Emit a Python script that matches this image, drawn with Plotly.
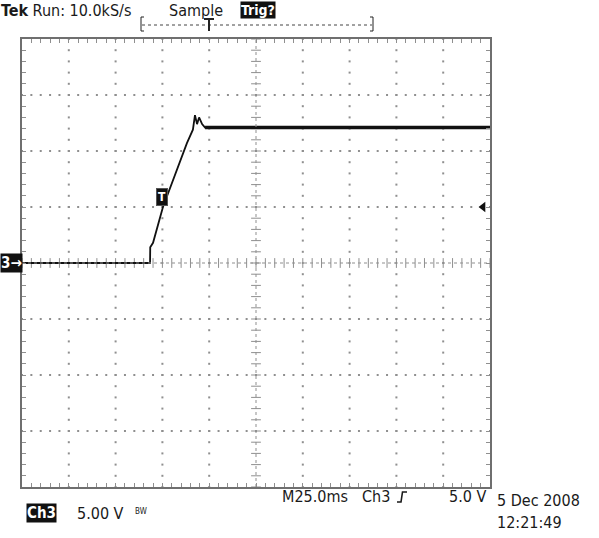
import plotly.graph_objects as go

# ---- data (time in ms relative to screen centre, amplitude in V) ----
time_ms = [-125, -56.6, -56.5, -55.0, -49.7, -42.2, -36.9, -33.7, -32.6, -31.5, -30.4, -28.8, -27.2, 125]
volts = [0.0, 0.0, 1.4, 1.8, 5.0, 8.3, 10.7, 11.9, 13.2, 12.4, 13.0, 12.4, 12.1, 12.1]

brand = "Tek"
run_text = "Run: 10.0kS/s"
acq_mode = "Sample"
trig_state = "Trig?"
timebase = "M25.0ms"
trig_src = "Ch3"
trig_level = "5.0 V"
ch_label = "Ch3"
ch_scale = "5.00 V"
bw_flag = "BW"
date_str = "5 Dec 2008"
time_str = "12:21:49"

# ---- screen geometry ----
T_DIV, V_DIV = 25.0, 5.0
NX, NY = 10, 8
X0, X1 = -NX / 2 * T_DIV, NX / 2 * T_DIV
Y0, Y1 = -NY / 2 * V_DIV, NY / 2 * V_DIV

W, H = 599, 538
L, R, T, B = 22, 490, 39, 487


def px(x):
    return (x - L) / (R - L)


def py(y):
    return (B - y) / (B - T)


FONT = "Liberation Sans Narrow, DejaVu Sans Condensed, Roboto Condensed, Liberation Sans, sans-serif"
GRID = "#8f8f8f"
TXT = "#1a1a1a"

fig = go.Figure()

# grid dots
gx, gy = [], []
for k in range(1, NX):
    xv = X0 + k * T_DIV
    if abs(xv) < 1e-9:
        continue
    for m in range(NY * 5 + 1):
        gx.append(xv)
        gy.append(Y0 + m * V_DIV / 5)
for k in range(1, NY):
    yv = Y0 + k * V_DIV
    if abs(yv) < 1e-9:
        continue
    for m in range(NX * 5 + 1):
        gx.append(X0 + m * T_DIV / 5)
        gy.append(yv)
fig.add_trace(go.Scatter(x=gx, y=gy, mode="markers", hoverinfo="skip",
                         marker=dict(symbol="square", size=2, color=GRID, line=dict(width=0))))

# centre cross ticks
cx = [X0 + m * T_DIV / 5 for m in range(NX * 5 + 1)]
fig.add_trace(go.Scatter(x=cx, y=[0] * len(cx), mode="markers", hoverinfo="skip",
                         marker=dict(symbol="line-ns", size=7, color=GRID, line=dict(width=1, color=GRID))))
cy = [Y0 + m * V_DIV / 5 for m in range(NY * 5 + 1)]
fig.add_trace(go.Scatter(x=[0] * len(cy), y=cy, mode="markers", hoverinfo="skip",
                         marker=dict(symbol="line-ew", size=7, color=GRID, line=dict(width=1, color=GRID))))
fig.add_shape(type="line", x0=X0, x1=X1, y0=0, y1=0, line=dict(color=GRID, width=1, dash="dot"))
fig.add_shape(type="line", x0=0, x1=0, y0=Y0, y1=Y1, line=dict(color=GRID, width=1, dash="dot"))

# waveform
fig.add_trace(go.Scatter(x=time_ms, y=volts, mode="lines", hoverinfo="skip",
                         line=dict(color="#111111", width=1.8)))
fig.add_trace(go.Scatter(x=time_ms[-2:], y=volts[-2:], mode="lines", hoverinfo="skip",
                         line=dict(color="#111111", width=3.5)))

# trigger level arrow on right edge
fig.add_trace(go.Scatter(x=[121.3], y=[5.0], mode="markers", hoverinfo="skip",
                         marker=dict(symbol="triangle-left", size=9, color="#111111")))

fig.update_xaxes(range=[X0, X1], showgrid=False, zeroline=False, showticklabels=False,
                 showline=True, linecolor="#6f6f6f", linewidth=2, mirror="ticks",
                 ticks="inside", tick0=0, dtick=T_DIV / 5, ticklen=4, tickcolor=GRID, tickwidth=1)
fig.update_yaxes(range=[Y0, Y1], showgrid=False, zeroline=False, showticklabels=False,
                 showline=True, linecolor="#6f6f6f", linewidth=2, mirror="ticks",
                 ticks="inside", tick0=0, dtick=V_DIV / 5, ticklen=4, tickcolor=GRID, tickwidth=1)

ann = []


def text(s, x, y, size, xanchor="left", color=TXT, bg=None, bold=False, family=FONT, xref="paper", yref="paper"):
    ann.append(dict(text=("<b>%s</b>" % s) if bold else s, x=x, y=y, xref=xref, yref=yref,
                    xanchor=xanchor, yanchor="middle", showarrow=False,
                    font=dict(family=family, size=size, color=color),
                    bgcolor=bg, borderpad=0))


# header
text("<b>%s</b> %s" % (brand, run_text), px(0), py(10), 16)
text(acq_mode, px(168), py(10), 16)
text(trig_state, px(240), py(10), 14, color="white", bg="#111111", bold=True)

# record bar
bar = dict(color="#222222", width=1)
fig.add_shape(type="line", xref="paper", yref="paper", x0=px(141), x1=px(141), y0=py(17), y1=py(31), line=bar)
fig.add_shape(type="line", xref="paper", yref="paper", x0=px(141), x1=px(144), y0=py(17), y1=py(17), line=bar)
fig.add_shape(type="line", xref="paper", yref="paper", x0=px(141), x1=px(144), y0=py(31), y1=py(31), line=bar)
fig.add_shape(type="line", xref="paper", yref="paper", x0=px(373), x1=px(373), y0=py(17), y1=py(31), line=bar)
fig.add_shape(type="line", xref="paper", yref="paper", x0=px(370), x1=px(373), y0=py(17), y1=py(17), line=bar)
fig.add_shape(type="line", xref="paper", yref="paper", x0=px(370), x1=px(373), y0=py(31), y1=py(31), line=bar)
fig.add_shape(type="line", xref="paper", yref="paper", x0=px(142), x1=px(372), y0=py(25), y1=py(25),
              line=dict(color="#444444", width=1, dash="dot"))
fig.add_shape(type="line", xref="paper", yref="paper", x0=px(204), x1=px(214), y0=py(19), y1=py(19), line=dict(color="#222222", width=2))
fig.add_shape(type="line", xref="paper", yref="paper", x0=px(209), x1=px(209), y0=py(19), y1=py(31), line=dict(color="#222222", width=2))

# ground marker and trigger marker
text("3\u2192", px(0), py(263), 15, color="white", bg="#111111", bold=True)
ann.append(dict(text="<b>T</b>", x=-50.0, y=5.9, xref="x", yref="y", showarrow=False,
                xanchor="center", yanchor="middle", bgcolor="#111111", borderpad=1,
                bordercolor="#555555", borderwidth=1,
                font=dict(family=FONT, size=12, color="white")))

# footer
text(timebase, px(281), py(496), 16)
text(trig_src, px(361), py(496), 16)
fig.add_shape(type="path", xref="paper", yref="paper",
              path="M %f,%f L %f,%f L %f,%f L %f,%f" % (px(397), py(502), px(401), py(502), px(402.5), py(492), px(407), py(492)),
              line=dict(color=TXT, width=1.6))
text(trig_level, px(448), py(496), 16)
text(date_str, px(496), py(500), 16)
text(time_str, px(496), py(522), 16)
text(ch_label, px(26), py(513), 15, color="white", bg="#111111", bold=True)
text(ch_scale, px(76), py(513), 16)
text(bw_flag, px(134), py(511), 8)

fig.update_layout(width=W, height=H, margin=dict(l=L, r=W - R, t=T, b=H - B),
                  paper_bgcolor="white", plot_bgcolor="white", showlegend=False,
                  annotations=ann)

fig.write_html("out.html", config={"displayModeBar": False},
               post_script="document.body.style.margin='0';document.body.style.padding='0';")
